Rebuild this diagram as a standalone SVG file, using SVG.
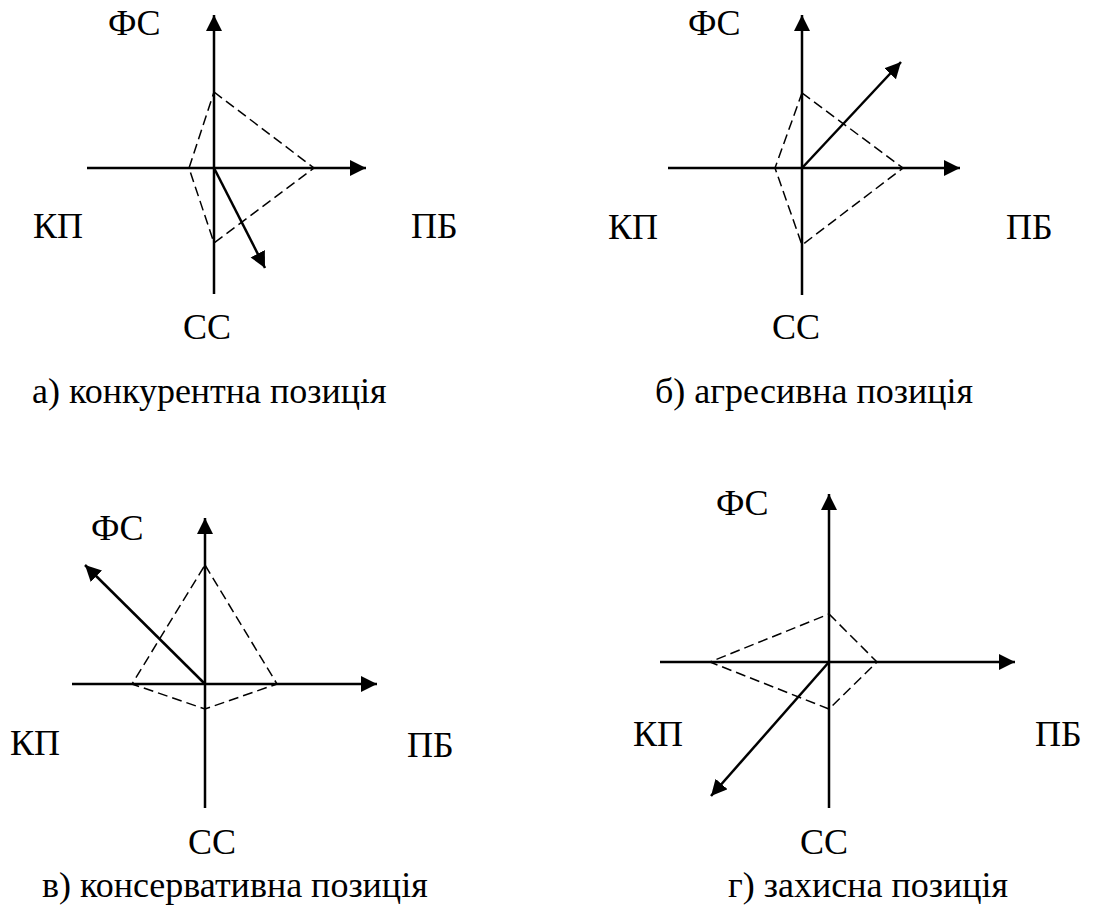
<svg xmlns="http://www.w3.org/2000/svg" width="1111" height="906" viewBox="0 0 1111 906">
<style>
.ax{stroke:#000;stroke-width:2.5;fill:none;marker-end:url(#ah)}
.vec{stroke:#000;stroke-width:2.5;fill:none;marker-end:url(#ah)}
.dash{stroke:#000;stroke-width:1.5;fill:none;stroke-dasharray:10 5}
.lbl{font-size:36px;fill:#000}
</style>
<defs>
<marker id="ah" markerUnits="userSpaceOnUse" markerWidth="18" markerHeight="18" refX="16" refY="8" orient="auto">
<path d="M0,0 L16,8 L0,16 z" fill="#000"/>
</marker>
</defs>
<rect width="1111" height="906" fill="#fff"/>
<g id="diagram-a" font-family="Liberation Serif, Times New Roman, serif">
<polygon class="dash" points="214,92 314,168 214,243 189,168"/>
<line class="ax" x1="214" y1="294" x2="214" y2="15"/>
<line class="ax" x1="87" y1="168" x2="366" y2="168"/>
<line class="vec" x1="214" y1="168" x2="265" y2="268"/>
<text class="lbl" x="108" y="35">ФС</text>
<text class="lbl" x="33" y="238">КП</text>
<text class="lbl" x="411" y="238">ПБ</text>
<text class="lbl" x="183" y="339">СС</text>
<text class="lbl" x="32" y="403">а) конкурентна позиція</text>
</g>
<g id="diagram-b" font-family="Liberation Serif, Times New Roman, serif">
<polygon class="dash" points="802,93 903,168 802,245 775,168"/>
<line class="ax" x1="802" y1="295" x2="802" y2="15"/>
<line class="ax" x1="668" y1="168" x2="960" y2="168"/>
<line class="vec" x1="802" y1="168" x2="901" y2="62"/>
<text class="lbl" x="688" y="35">ФС</text>
<text class="lbl" x="608" y="239">КП</text>
<text class="lbl" x="1006" y="239">ПБ</text>
<text class="lbl" x="772" y="339">СС</text>
<text class="lbl" x="655" y="403">б) агресивна позиція</text>
</g>
<g id="diagram-c" font-family="Liberation Serif, Times New Roman, serif">
<polygon class="dash" points="205,565 277,684 205,709 132,684"/>
<line class="ax" x1="205" y1="808" x2="205" y2="518"/>
<line class="ax" x1="72" y1="684" x2="377" y2="684"/>
<line class="vec" x1="205" y1="684" x2="85" y2="565"/>
<text class="lbl" x="91" y="540">ФС</text>
<text class="lbl" x="10" y="755">КП</text>
<text class="lbl" x="407" y="757">ПБ</text>
<text class="lbl" x="188" y="854">СС</text>
<text class="lbl" x="42" y="897">в) консервативна позиція</text>
</g>
<g id="diagram-d" font-family="Liberation Serif, Times New Roman, serif">
<polygon class="dash" points="829,614 877,662 829,709 710,662"/>
<line class="ax" x1="829" y1="808" x2="829" y2="494"/>
<line class="ax" x1="660" y1="662" x2="1015" y2="662"/>
<line class="vec" x1="829" y1="662" x2="711" y2="796"/>
<text class="lbl" x="716" y="515">ФС</text>
<text class="lbl" x="633" y="746">КП</text>
<text class="lbl" x="1035" y="746">ПБ</text>
<text class="lbl" x="800" y="854">СС</text>
<text class="lbl" x="728" y="897">г) захисна позиція</text>
</g>
</svg>
